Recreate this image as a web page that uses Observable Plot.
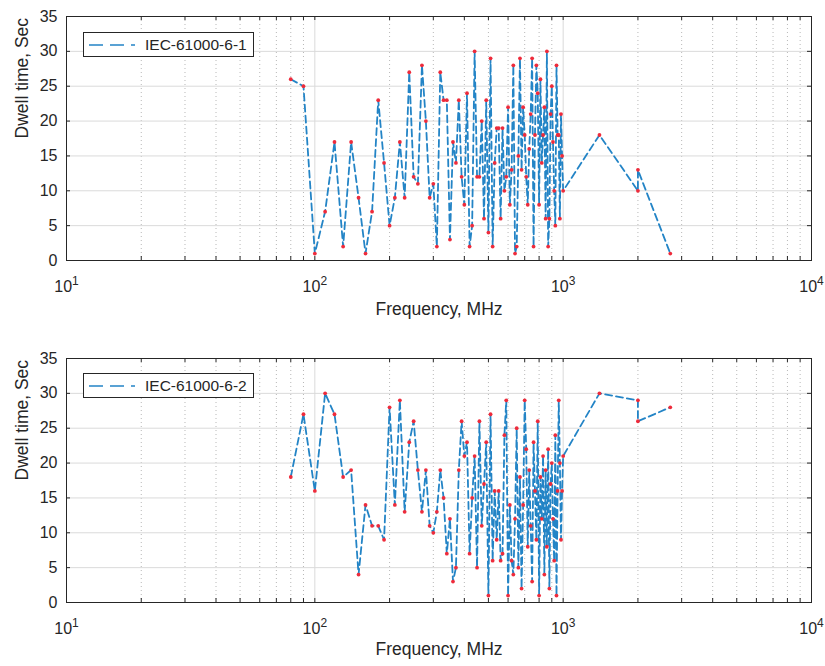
<!DOCTYPE html>
<html>
<head>
<meta charset="utf-8">
<script src="https://cdn.jsdelivr.net/npm/d3@7"></script>
<script src="https://cdn.jsdelivr.net/npm/@observablehq/plot@0.6"></script>
<style>
  body { margin: 0; background: #fff; }
  #wrap { position: relative; width: 825px; height: 666px; }
  .legend { position: absolute; left: 83px; width: 171px; height: 25px; border: 1px solid #262626; background: #fff;
            box-sizing: border-box; font-family: "Liberation Sans", Arial, sans-serif; font-size: 15.5px; color: #262626;
            display: flex; align-items: center; }
  .legend svg { margin-left: 5px; margin-right: 10px; }
</style>
</head>
<body>
<div id="wrap"></div>
<script>
// ---- Data ----
const freq1 = [
  80, 90, 100, 110, 120, 130, 140, 150, 160, 170,
  180, 190, 200, 210, 220, 230, 240, 250, 260, 270,
  280, 290, 300, 310, 320, 330, 340, 350, 360, 370,
  380, 390, 400, 410, 420, 430, 440, 450, 460, 470,
  480, 490, 500, 510, 520, 530, 540, 550, 560, 570,
  580, 590, 600, 610, 620, 630, 640, 650, 660, 670,
  680, 690, 700, 710, 720, 730, 740, 750, 760, 770,
  780, 790, 800, 810, 820, 830, 840, 850, 860, 870,
  880, 890, 900, 910, 920, 930, 940, 950, 960, 970,
  980, 990, 1000, 1400, 2000, 2000, 2700
];
const dwell1 = [
  26, 25, 1, 7, 17, 2, 17, 9, 1, 7,
  23, 14, 5, 9, 17, 9, 27, 12, 11, 28,
  20, 9, 11, 2, 27, 23, 23, 3, 17, 14,
  23, 12, 8, 24, 2, 5, 30, 12, 12, 20,
  6, 23, 4, 29, 2, 14, 19, 19, 6, 19,
  10, 12, 22, 8, 13, 28, 1, 2, 15, 29,
  13, 22, 18, 12, 8, 16, 21, 29, 2, 18,
  28, 24, 8, 26, 14, 18, 22, 6, 30, 2,
  6, 21, 25, 17, 10, 5, 28, 18, 18, 6,
  21, 15, 10, 18, 10, 13, 1
];
const freq2 = [
  80, 90, 100, 110, 120, 130, 140, 150, 160, 170,
  180, 190, 200, 210, 220, 230, 240, 250, 260, 270,
  280, 290, 300, 310, 320, 330, 340, 350, 360, 370,
  380, 390, 400, 410, 420, 430, 440, 450, 460, 470,
  480, 490, 500, 510, 520, 530, 540, 550, 560, 570,
  580, 590, 600, 610, 620, 630, 640, 650, 660, 670,
  680, 690, 700, 710, 720, 730, 740, 750, 760, 770,
  780, 790, 800, 810, 820, 830, 840, 850, 860, 870,
  880, 890, 900, 910, 920, 930, 940, 950, 960, 970,
  980, 990, 1000, 1400, 2000, 2000, 2700
];
const dwell2 = [
  18, 27, 16, 30, 27, 18, 19, 4, 14, 11,
  11, 9, 28, 14, 29, 13, 23, 26, 19, 13,
  19, 11, 10, 13, 19, 15, 7, 12, 3, 5,
  19, 26, 21, 23, 7, 15, 21, 5, 26, 11,
  17, 23, 1, 27, 6, 16, 9, 16, 6, 7,
  24, 29, 1, 14, 6, 4, 12, 25, 5, 18,
  2, 14, 29, 22, 8, 19, 11, 3, 23, 16,
  9, 26, 1, 18, 12, 21, 4, 19, 8, 22,
  2, 17, 20, 12, 6, 24, 1, 16, 29, 20,
  9, 16, 21, 30, 29, 26, 28
];
const seriesNames = ["IEC-61000-6-1", "IEC-61000-6-2"];
const xMajorTicks = [10, 100, 1000, 10000];
const xTickExponents = ["1", "2", "3", "4"];
const yTicks = [0, 5, 10, 15, 20, 25, 30, 35];
const xLabel = "Frequency, MHz";
const yLabel = "Dwell time, Sec";

const xMinorTicks = [];
for (const dec of [10, 100, 1000]) for (let k = 2; k <= 9; k++) xMinorTicks.push(dec * k);

const W = 825, H = 333, ML = 66, MR = 14;
const FW = W - ML - MR;
const LINE = "#2384c6";

function panel(freqs, vals, mt, mb, labelDy) {
  const data = freqs.map((f, i) => ({f, v: vals[i]}));
  const FH = H - mt - mb;
  const tickLen = 4;
  const allX = xMinorTicks.concat(xMajorTicks);
  const svg = Plot.plot({
    width: W, height: H,
    marginLeft: ML, marginRight: MR, marginTop: mt, marginBottom: mb,
    style: {fontFamily: "'Liberation Sans', Arial, sans-serif", fontSize: "16px", color: "#262626", background: "#fff"},
    x: {type: "log", domain: [10, 10000]},
    y: {domain: [0, 35]},
    marks: [
      Plot.ruleX(xMinorTicks, {stroke: "#b8b8b8", strokeDasharray: "1,3", strokeWidth: 1}),
      Plot.ruleX(xMajorTicks, {stroke: "#dadada", strokeWidth: 1}),
      Plot.ruleY(yTicks, {stroke: "#dadada", strokeWidth: 1}),
      Plot.line(data, {x: "f", y: "v", stroke: LINE, strokeWidth: 1.8, strokeDasharray: "7,4", curve: "linear"}),
      Plot.dot(data, {x: "f", y: "v", r: 1.9, fill: "#ee2b3b", stroke: "none"}),
      Plot.tickX(allX, {x: d => d, insetTop: FH - tickLen, stroke: "#262626"}),
      Plot.tickX(allX, {x: d => d, insetBottom: FH - tickLen, stroke: "#262626"}),
      Plot.tickY(yTicks, {y: d => d, insetRight: FW - tickLen, stroke: "#262626"}),
      Plot.tickY(yTicks, {y: d => d, insetLeft: FW - tickLen, stroke: "#262626"}),
      Plot.axisX(xMajorTicks, {tickSize: 0, tickPadding: 20, fontSize: 16,
        tickFormat: d => "10^" + xTickExponents[xMajorTicks.indexOf(d)], label: null}),
      Plot.axisY(yTicks, {tickSize: 0, tickPadding: 9, fontSize: 16, label: null}),
      Plot.frame({stroke: "#262626", strokeWidth: 1}),
      Plot.text([xLabel], {text: d => d, frameAnchor: "bottom", dy: labelDy, fontSize: 17.5}),
      Plot.text([yLabel], {text: d => d, frameAnchor: "left", dx: -44, rotate: -90, fontSize: 17.5})
    ]
  });
  svg.querySelectorAll('g[aria-label="x-axis tick label"] text').forEach(t => {
    const s = t.textContent;
    const [base, exp] = s.split("^");
    t.textContent = "";
    const ns = "http://www.w3.org/2000/svg";
    const a = document.createElementNS(ns, "tspan");
    a.textContent = base;
    const b = document.createElementNS(ns, "tspan");
    b.textContent = exp;
    b.setAttribute("dy", "-7");
    b.setAttribute("font-size", "12");
    t.appendChild(a); t.appendChild(b);
  });
  return svg;
}

const wrap = document.getElementById("wrap");
wrap.appendChild(panel(freq1, dwell1, 16, 73, 54));
wrap.appendChild(panel(freq2, dwell2, 25, 64, 52));
wrap.querySelectorAll("svg").forEach(s => { s.style.display = "block"; });

const legendTops = [32, 373];
seriesNames.forEach((name, i) => {
  const d = document.createElement("div");
  d.className = "legend";
  d.style.top = legendTops[i] + "px";
  d.innerHTML = '<svg width="46" height="10"><line x1="0" y1="5" x2="46" y2="5" stroke="' + LINE + '" stroke-width="1.5" stroke-dasharray="14,7"/></svg><span></span>';
  d.querySelector("span").textContent = name;
  wrap.appendChild(d);
});
</script>
</body>
</html>
